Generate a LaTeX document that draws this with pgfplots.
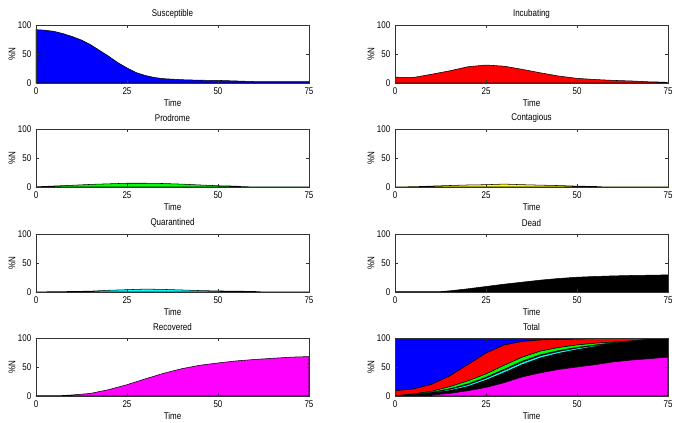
\documentclass[border=0pt]{standalone}
\usepackage{fontspec}
\setmainfont{Liberation Sans}[FakeStretch=0.82]
\usepackage{pgfplots}
\pgfplotsset{compat=1.18}
\usepackage{pgfplotstable}

\definecolor{mblue}{RGB}{0,0,255}
\definecolor{mred}{RGB}{255,0,0}
\definecolor{mgreen}{RGB}{0,255,0}
\definecolor{myellow}{RGB}{255,255,0}
\definecolor{mcyan}{RGB}{0,255,255}
\definecolor{mmagenta}{RGB}{255,0,255}

% total panel: stacked increments, bottom to top
\pgfplotstableread{
t   m     k     c    y    g    r     b
0   0     0     0.1  0.1  0.3  8.5   91
5   0.3   0.7   0.7  0.4  1.3  8.6   88
10  1.7   2.8   1.1  0.5  1.9  12    80
15  4.5   4.5   2.3  1    3.7  18.5  65.5
20  9     7     3.3  1.4  5.3  28    46
25  14.7  12.3  3.7  1.5  5.8  36    26
30  23    17    4.3  1.7  7    35    12
35  33    21    4.3  1.7  7    27    6
40  40    25.5  4    1.6  6.4  19.1  3.4
45  45.8  27.6  3.4  1.4  5.4  13.9  2.5
50  50    29.7  2.8  1.1  4.4  10    2
55  54    31    2    0.8  3.2  7.8   1.2
60  58.8  31.2  1    0.4  1.6  6.4   0.6
65  62    32    0.3  0.2  0.5  4.7   0.3
70  64.4  33.3  0    0    0    2.3   0
75  67    33    0    0    0    0     0
}\total

\pgfplotsset{
  panel/.style={
    scale only axis, width=204.75pt, height=43.5pt,
    xmin=0, xmax=75, ymin=0, ymax=100,
    xtick={0,25,50,75}, ytick={0,50,100},
    tick align=inside, major tick length=2.2pt,
    axis line style={black!80, line width=0.4pt},
    tick style={black!80, line width=0.4pt},
    font=\fontsize{7.3}{8}\selectfont,
    /pgf/number format/assume math mode=true,
    xlabel={Time}, ylabel={\%N},
    every axis x label/.style={at={(axis description cs:0.5,0)}, anchor=center, yshift=-15pt},
    every axis y label/.style={at={(axis description cs:-0.088,0.5)}, anchor=center, rotate=90},
    every axis title/.style={at={(axis description cs:0.5,1)}, anchor=center, yshift=8pt},
    axis on top,
  },
  ar/.style={draw=black, line width=0.4pt, fill=#1},
}

\begin{document}
\begin{tikzpicture}
\path[use as bounding box] (0,0) rectangle (505.5pt,-316.5pt);

\begin{axis}[panel, at={(27pt,-18.75pt)}, anchor=north west, title={Susceptible}]
\addplot[ar=mblue] coordinates {(0,92) (2.5,91) (5,89) (7.5,85) (10,80) (12.5,74) (15,66) (17.5,56) (20,46) (22.5,35) (25,26) (27.5,18) (30,13) (32.5,9.5) (35,7.5) (40,5.7) (45,4.8) (50,4.5) (55,3.5) (60,2.5) (65,2.3) (70,2.3) (75,2.3)} \closedcycle;
\end{axis}

\begin{axis}[panel, at={(296.25pt,-18.75pt)}, anchor=north west, title={Incubating}]
\addplot[ar=mred] coordinates {(0,10) (5,9.5) (10,15) (15,21) (20,28) (25,31) (30,29) (35,23.5) (40,17.5) (45,12) (50,8) (55,6) (60,4.5) (65,3.5) (70,2) (74,1.5) (75,0.5)} \closedcycle;
\end{axis}

\begin{axis}[panel, at={(27pt,-96.75pt)}, anchor=north west, title={Prodrome}]
\addplot[ar=mgreen] coordinates {(0,0.5) (3,1.2) (10,3) (15,4.5) (20,5.5) (25,6.5) (30,6.5) (35,6) (40,5) (45,3.5) (50,2.2) (55,1.5) (57,0.5) (60,0.3) (75,0.3)} \closedcycle;
\end{axis}

\begin{axis}[panel, at={(296.25pt,-96.75pt)}, anchor=north west, title={Contagious}]
\addplot[ar=myellow] coordinates {(0,0.2) (5,0.5) (12,2) (20,3.5) (25,4) (30,5) (35,4) (40,3.2) (45,2.5) (50,1.5) (55,1) (57,0.3) (75,0.3)} \closedcycle;
\end{axis}

\begin{axis}[panel, at={(27pt,-175.5pt)}, anchor=north west, title={Quarantined}]
\addplot[ar=mcyan] coordinates {(0,0.2) (7,0.7) (15,1.5) (20,3) (25,4) (30,5) (35,4.5) (40,3.5) (45,2.5) (50,1.8) (55,1.5) (60,1) (62,0.3) (75,0.3)} \closedcycle;
\end{axis}

\begin{axis}[panel, at={(296.25pt,-175.5pt)}, anchor=north west, title={Dead}]
\addplot[ar=black] coordinates {(0,0.5) (12,0.5) (15,2) (20,5.5) (25,9.5) (30,13.5) (35,17) (40,20.5) (45,23.3) (50,25.5) (55,26.8) (60,27.8) (65,28.5) (70,29) (75,29.5)} \closedcycle;
\end{axis}

\begin{axis}[panel, at={(27pt,-253.5pt)}, anchor=north west, title={Recovered}]
\addplot[ar=mmagenta] coordinates {(0,0.8) (7,0.8) (10,1.8) (15,4.5) (20,11) (25,19.5) (30,29.5) (35,39) (40,47) (45,53) (50,57) (55,60.5) (60,63) (65,65) (70,67) (75,68)} \closedcycle;
\end{axis}

\begin{axis}[panel, at={(296.25pt,-253.5pt)}, anchor=north west, title={Total}, stack plots=y]
\addplot[ar=mmagenta] table[x=t, y=m] {\total} \closedcycle;
\addplot[ar=black] table[x=t, y=k] {\total} \closedcycle;
\addplot[ar=mcyan] table[x=t, y=c] {\total} \closedcycle;
\addplot[ar=myellow] table[x=t, y=y] {\total} \closedcycle;
\addplot[ar=mgreen] table[x=t, y=g] {\total} \closedcycle;
\addplot[ar=mred] table[x=t, y=r] {\total} \closedcycle;
\addplot[ar=mblue] table[x=t, y=b] {\total} \closedcycle;
\end{axis}
\end{tikzpicture}
\end{document}
